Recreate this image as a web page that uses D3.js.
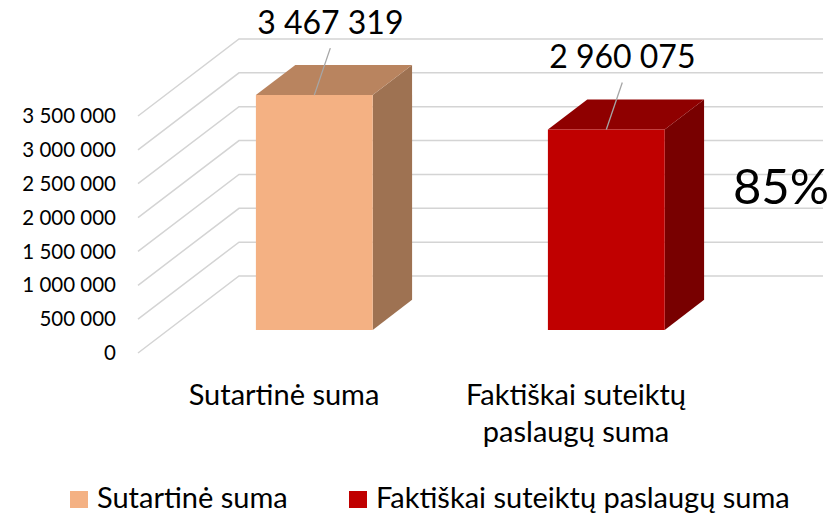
<!DOCTYPE html>
<html>
<head>
<meta charset="utf-8">
<script src="https://cdn.jsdelivr.net/npm/d3@7"></script>
<style>
  body { margin: 0; background: #fff; }
  svg { display: block; font-family: Lato, "Noto Sans", sans-serif; }
</style>
</head>
<body>
<svg id="chart" width="836" height="515"></svg>
<script>
// data
var categories = ["Sutartinė suma", "Faktiškai suteiktų paslaugų suma"];
var catLines = [["Sutartinė suma"], ["Faktiškai suteiktų", "paslaugų suma"]];
var values = [3467319, 2960075];
var valueLabels = ["3 467 319", "2 960 075"];
var yTicks = [0, 500000, 1000000, 1500000, 2000000, 2500000, 3000000, 3500000];
var percentLabel = "85%";

var frontColors = ["#F4B183", "#C00000"];
var topColors = ["#B9845F", "#8F0000"];
var sideColors = ["#9E7252", "#780000"];

var svg = d3.select("#chart");

// floor front-left corner and depth vector of the wall
var x0 = 138, y0 = 353, depthX = 101, depthY = 77;
var barFront = 0.3, barBack = 0.69;

var h = d3.scaleLinear().domain([0, 3500000]).range([0, 237]);
var x = d3.scaleBand().domain(categories).range([x0, 722]).paddingInner(0.6).paddingOuter(0.3);

function proj(px, d, v) {
  return [px + d * depthX, y0 - d * depthY - h(v)];
}

var fmt = function(v) { return d3.format(",")(v).replace(/,/g, " "); };

// gridlines: front diagonal + back wall
var grid = svg.append("g");
yTicks.forEach(function(v) {
  var a = proj(x0, 0, v), b = proj(x0, 1, v), c = [823, b[1]];
  grid.append("polyline")
    .attr("points", [a, b, c].map(function(p) { return p.join(","); }).join(" "))
    .attr("fill", "none").attr("stroke", "#d4d4d4").attr("stroke-width", 1.5);
});

// y axis labels
svg.append("g").selectAll("text").data(yTicks).join("text")
  .attr("x", 116).attr("y", function(d) { return proj(x0, 0, d)[1] + 2; })
  .attr("text-anchor", "end").attr("dominant-baseline", "middle")
  .attr("font-size", 20.5).attr("fill", "#000")
  .text(fmt);

// bars
var bars = svg.append("g");
categories.forEach(function(c, i) {
  var l = x(c), r = x(c) + x.bandwidth(), v = values[i];
  var poly = function(pts, col) {
    bars.append("polygon").attr("points", pts.map(function(p) { return p.join(","); }).join(" ")).attr("fill", col);
  };
  // side
  poly([proj(r, barFront, 0), proj(r, barBack, 0), proj(r, barBack, v), proj(r, barFront, v)], sideColors[i]);
  // top
  poly([proj(l, barFront, v), proj(r, barFront, v), proj(r, barBack, v), proj(l, barBack, v)], topColors[i]);
  // front
  poly([proj(l, barFront, 0), proj(r, barFront, 0), proj(r, barFront, v), proj(l, barFront, v)], frontColors[i]);

  var top = proj((l + r) / 2, barFront, v);
  var lx = top[0] + 16, ly = top[1] - 61;
  bars.append("line")
    .attr("x1", lx).attr("y1", ly + 14).attr("x2", top[0]).attr("y2", top[1])
    .attr("stroke", "#a6a6a6").attr("stroke-width", 1.3);
  bars.append("text")
    .attr("x", lx).attr("y", ly)
    .attr("text-anchor", "middle").attr("font-size", 32).attr("fill", "#000")
    .text(valueLabels[i]);
});

// percentage
svg.append("text")
  .attr("x", 781).attr("y", 204)
  .attr("text-anchor", "middle").attr("font-size", 49).attr("fill", "#000")
  .text(percentLabel);

// category labels
categories.forEach(function(c, i) {
  var cx = x(c) + x.bandwidth() / 2;
  catLines[i].forEach(function(line, j) {
    svg.append("text")
      .attr("x", cx).attr("y", 405 + j * 37)
      .attr("text-anchor", "middle").attr("font-size", 29).attr("fill", "#000")
      .text(line);
  });
});

// legend
var legendX = [70, 349];
var legend = svg.append("g");
categories.forEach(function(c, i) {
  legend.append("rect")
    .attr("x", legendX[i]).attr("y", 491).attr("width", 18).attr("height", 17)
    .attr("fill", frontColors[i]);
  legend.append("text")
    .attr("x", legendX[i] + 27).attr("y", 508)
    .attr("font-size", 29).attr("fill", "#000")
    .text(c);
});
</script>
</body>
</html>
